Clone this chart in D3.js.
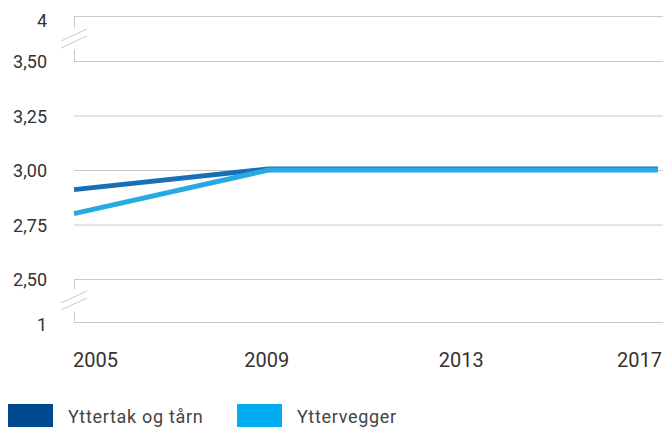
<!DOCTYPE html>
<html>
<head>
<meta charset="utf-8">
<script src="https://cdn.jsdelivr.net/npm/d3@7"></script>
<style>
  html, body { margin: 0; padding: 0; background: #fff; }
  svg { display: block; font-family: Roboto, "Noto Sans", sans-serif; }
</style>
</head>
<body>
<svg id="chart" width="663" height="427"></svg>
<script>
// Years on the x axis
const years = [2005, 2009, 2013, 2017];
// Average condition grade per building part
const yttertak = [2.91, 3.005, 3.005, 3.005];
const yttervegger = [2.80, 3.00, 3.00, 3.00];
// Y axis ticks (broken axis: 1 and 4 sit beyond the breaks)
const yTicks = [1, 2.5, 2.75, 3, 3.25, 3.5, 4];
const yTickLabels = ["1", "2,50", "2,75", "3,00", "3,25", "3,50", "4"];
const seriesNames = ["Yttertak og tårn", "Yttervegger"];

const lineColors = ["#1670b7", "#27a9e1"];
const legendColors = ["#00488f", "#00adee"];

const svg = d3.select("#chart");
const W = 663;
const left = 74, right = 658;

const x = d3.scaleLinear().domain([2005, 2017]).range([left, right]);
// Piecewise scale: compressed segments across the axis breaks
const y = d3.scaleLinear().domain([1, 2.5, 3.5, 4]).range([322, 279, 61, 16]);

// Gridlines
svg.append("g").selectAll("line").data(yTicks).join("line")
  .attr("x1", left).attr("x2", W)
  .attr("y1", d => y(d) + 0.5).attr("y2", d => y(d) + 0.5)
  .attr("stroke", "#cacaca").attr("stroke-width", 1);

// Axis stubs and break marks
const breaks = [[3.5, 4], [1, 2.5]];
const gb = svg.append("g").attr("stroke", "#cacaca").attr("stroke-width", 1).attr("fill", "none");
breaks.forEach(([lo, hi]) => {
  const yTop = y(hi), yBot = y(lo), mid = (yTop + yBot) / 2;
  gb.append("line").attr("x1", left + 0.5).attr("x2", left + 0.5).attr("y1", yTop).attr("y2", mid - 11);
  gb.append("line").attr("x1", left + 0.5).attr("x2", left + 0.5).attr("y1", mid + 11).attr("y2", yBot + 0.5);
  [-3.5, 3.5].forEach(o => {
    gb.append("line")
      .attr("x1", left - 13).attr("y1", mid + o + 6)
      .attr("x2", left + 13).attr("y2", mid + o - 6);
  });
});

// Y tick labels
const labelShift = { 4: 5, 1: 3 };
svg.append("g").selectAll("text").data(yTicks).join("text")
  .attr("x", 47)
  .attr("y", d => y(d) + (labelShift[d] || 1))
  .attr("dy", "0.35em")
  .attr("text-anchor", "end")
  .attr("font-size", 18)
  .attr("fill", "#333")
  .text((d, i) => yTickLabels[i]);

// X tick labels
svg.append("g").selectAll("text").data(years).join("text")
  .attr("x", (d, i) => i === 0 ? x(d) - 1 : i === years.length - 1 ? x(d) + 4 : x(d) - 2)
  .attr("y", 367)
  .attr("text-anchor", (d, i) => i === 0 ? "start" : i === years.length - 1 ? "end" : "middle")
  .attr("font-size", 20)
  .attr("fill", "#333")
  .text(d => d);

// Lines
const line = d3.line().x((d, i) => x(years[i])).y(d => y(d));
[yttertak, yttervegger].forEach((vals, i) => {
  svg.append("path")
    .attr("d", line(vals))
    .attr("fill", "none")
    .attr("stroke", lineColors[i])
    .attr("stroke-width", 5)
    .attr("stroke-linejoin", "round");
});

// Legend
const legendX = [8, 237];
const lg = svg.append("g");
seriesNames.forEach((name, i) => {
  lg.append("rect").attr("x", legendX[i]).attr("y", 404).attr("width", 45).attr("height", 24)
    .attr("fill", legendColors[i]);
  lg.append("text").attr("x", legendX[i] + 60).attr("y", 423)
    .attr("font-size", 18).attr("letter-spacing", 0.7).attr("fill", "#444").text(name);
});
</script>
</body>
</html>
